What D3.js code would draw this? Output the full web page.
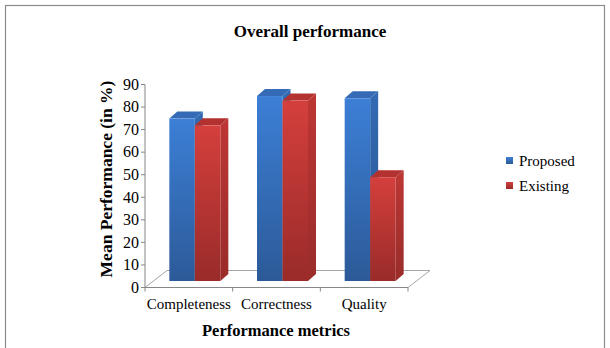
<!DOCTYPE html>
<html>
<head>
<meta charset="utf-8">
<script src="https://cdn.jsdelivr.net/npm/d3@7/dist/d3.min.js"></script>
<style>
  html, body { margin: 0; padding: 0; background: #fff; }
  svg { display: block; }
  svg text { font-family: "Liberation Serif", "DejaVu Serif", "Times New Roman", Times, serif; }
</style>
</head>
<body>
<svg id="chart" width="610" height="348"></svg>
<script>
// Data
const categories = ["Completeness", "Correctness", "Quality"];
const seriesNames = ["Proposed", "Existing"];
const proposed = [72, 82, 81];
const existing = [69, 80, 46];
const yTicks = [0, 10, 20, 30, 40, 50, 60, 70, 80, 90];

const values = [proposed, existing];

const palette = {
  Proposed: { top: "#3c7fd6", bottom: "#2c5a98", roof: "#356bb6", side: "#2f61a4" },
  Existing: { top: "#d43f3c", bottom: "#992b29", roof: "#b3312f", side: "#ad3230" }
};

const FONT = "'Liberation Serif', 'DejaVu Serif', 'Times New Roman', Times, serif";

const svg = d3.select("#chart").attr("font-family", FONT);

// Plot geometry (front plane of the 3D floor)
const x0 = 145, x1 = 408, yBase = 287.5, yTop = 84.5;
const floorDepth = { dx: 22, dy: -17 };
const barShift = { dx: 6, dy: -6.5 };   // bars sit inside the floor depth
const barDepth = { dx: 8, dy: -7 };
const barW = 25.5;

const x = d3.scaleBand().domain(categories).range([x0, x1]);
const y = d3.scaleLinear().domain([0, 90]).range([yBase, yTop]);

// Outer frame
svg.append("rect")
  .attr("x", 5.5).attr("y", 5.5)
  .attr("width", 599).attr("height", 400)
  .attr("fill", "none").attr("stroke", "#8c8c8c").attr("stroke-width", 1.2);

// Gradients
const defs = svg.append("defs");
seriesNames.forEach(name => {
  const g = defs.append("linearGradient")
    .attr("id", "grad-" + name)
    .attr("x1", 0).attr("y1", 0).attr("x2", 0).attr("y2", 1);
  g.append("stop").attr("offset", "0%").attr("stop-color", palette[name].top);
  g.append("stop").attr("offset", "100%").attr("stop-color", palette[name].bottom);
  const s = defs.append("linearGradient")
    .attr("id", "side-" + name)
    .attr("x1", 0).attr("y1", 0).attr("x2", 0).attr("y2", 1);
  s.append("stop").attr("offset", "0%").attr("stop-color", d3.color(palette[name].side).brighter(0.25));
  s.append("stop").attr("offset", "100%").attr("stop-color", d3.color(palette[name].side).darker(0.35));
});

// Floor
const floor = [
  [x0, yBase], [x1, yBase],
  [x1 + floorDepth.dx, yBase + floorDepth.dy],
  [x0 + floorDepth.dx, yBase + floorDepth.dy]
];
svg.append("polygon")
  .attr("points", floor.map(p => p.join(",")).join(" "))
  .attr("fill", "#fff").attr("stroke", "#a6a6a6").attr("stroke-width", 1);

// Value axis
svg.append("line")
  .attr("x1", x0).attr("x2", x0).attr("y1", yTop).attr("y2", yBase)
  .attr("stroke", "#868686").attr("stroke-width", 1);
svg.append("line")
  .attr("x1", x0).attr("x2", x1).attr("y1", yBase).attr("y2", yBase)
  .attr("stroke", "#868686").attr("stroke-width", 1);

const yAxis = svg.append("g");
yAxis.selectAll("line").data(yTicks).enter().append("line")
  .attr("x1", x0 - 4).attr("x2", x0)
  .attr("y1", d => y(d)).attr("y2", d => y(d))
  .attr("stroke", "#868686");
yAxis.selectAll("text").data(yTicks).enter().append("text")
  .attr("x", x0 - 6).attr("y", d => y(d))
  .attr("dy", "0.33em")
  .attr("text-anchor", "end")
  .attr("font-size", 16).attr("fill", "#000")
  .text(d => d);

// Category axis ticks and labels
const bounds = categories.map(c => x(c) + x.bandwidth()).concat([x0]);
svg.append("g").selectAll("line").data(bounds).enter().append("line")
  .attr("x1", d => d).attr("x2", d => d)
  .attr("y1", yBase).attr("y2", yBase + 4)
  .attr("stroke", "#868686");
svg.append("g").selectAll("text").data(categories).enter().append("text")
  .attr("x", d => x(d) + x.bandwidth() / 2)
  .attr("y", 309)
  .attr("text-anchor", "middle")
  .attr("font-size", 15).attr("fill", "#000")
  .text(d => d);

// 3D columns
const bars = [];
categories.forEach((c, ci) => {
  const cx = x(c) + x.bandwidth() / 2;
  seriesNames.forEach((name, si) => {
    bars.push({ cat: c, name, v: values[si][ci], left: cx - barW + si * barW });
  });
});

const barG = svg.append("g");
bars.forEach(b => {
  const l = b.left + barShift.dx;
  const r = l + barW;
  const t = y(b.v) + barShift.dy;
  const bot = y(0) + barShift.dy;
  const g = barG.append("g");
  // side face
  g.append("polygon")
    .attr("points", [[r, t], [r + barDepth.dx, t + barDepth.dy], [r + barDepth.dx, bot + barDepth.dy], [r, bot]]
      .map(p => p.join(",")).join(" "))
    .attr("fill", "url(#side-" + b.name + ")");
  // top face
  g.append("polygon")
    .attr("points", [[l, t], [r, t], [r + barDepth.dx, t + barDepth.dy], [l + barDepth.dx, t + barDepth.dy]]
      .map(p => p.join(",")).join(" "))
    .attr("fill", palette[b.name].roof);
  // front face
  g.append("rect")
    .attr("x", l).attr("y", t)
    .attr("width", barW).attr("height", bot - t)
    .attr("fill", "url(#grad-" + b.name + ")");
});

// Title
svg.append("text")
  .attr("x", 310).attr("y", 37)
  .attr("text-anchor", "middle")
  .attr("font-size", 17).attr("font-weight", "bold")
  .text("Overall performance");

// Axis titles
svg.append("text")
  .attr("x", 276).attr("y", 336)
  .attr("text-anchor", "middle")
  .attr("font-size", 16.5).attr("font-weight", "bold")
  .text("Performance metrics");

svg.append("text")
  .attr("transform", "translate(112,179) rotate(-90)")
  .attr("text-anchor", "middle")
  .attr("font-size", 17.5).attr("font-weight", "bold")
  .text("Mean Performance (in %)");

// Legend
const legend = svg.append("g");
seriesNames.forEach((name, i) => {
  const ly = 157 + i * 25;
  legend.append("rect")
    .attr("x", 506).attr("y", ly)
    .attr("width", 7).attr("height", 7)
    .attr("fill", "url(#grad-" + name + ")");
  legend.append("text")
    .attr("x", 519).attr("y", ly + 4)
    .attr("dy", "0.33em")
    .attr("font-size", 15).attr("fill", "#000")
    .text(name);
});
</script>
</body>
</html>
